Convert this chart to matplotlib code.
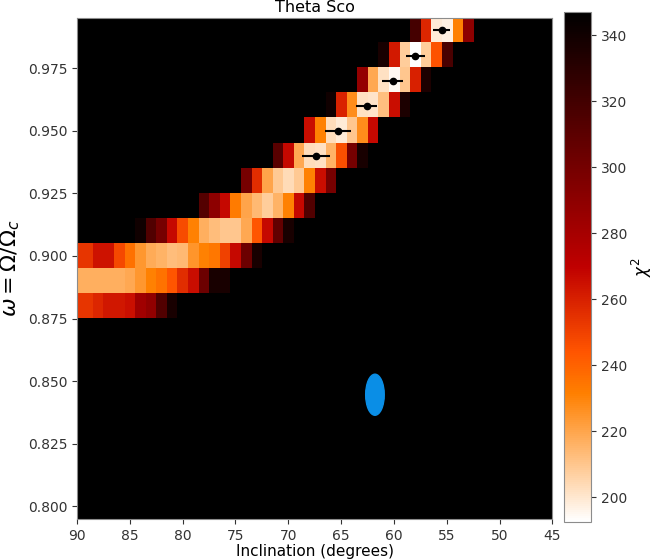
"""
Theta Sco chi-square map: inclination vs. rotation rate.
"""

import numpy as np
import matplotlib
matplotlib.use("Agg")
import matplotlib.pyplot as plt
from matplotlib.patches import Ellipse

# grid axes (cell centres)
inclinations = np.arange(90, 44, -1)          # 90 ... 45 deg
omegas = np.round(np.arange(0.80, 0.995, 0.01), 2)  # 0.80 ... 0.99

# chi2 band: rows of omega, first inclination, values going down in inclination
band_omega = [0.88, 0.89, 0.90, 0.91, 0.92, 0.93, 0.94, 0.95, 0.96, 0.97, 0.98, 0.99]
band_start = [90, 90, 90, 84, 78, 74, 71, 68, 66, 63, 61, 58]
band_chi2 = [
    [254, 254, 258, 263, 263, 265, 282, 288, 314, 337],
    [217, 217, 217, 217, 217, 219, 224, 231, 235, 244, 256, 266, 303, 337, 337],
    [254, 254, 264, 264, 248, 236, 224, 218, 216, 213, 214, 225, 231, 234, 250, 267, 303, 337],
    [340, 314, 299, 267, 247, 231, 217, 213, 210, 210, 219, 244, 267, 307, 337],
    [313, 290, 267, 233, 220, 214, 208, 216, 231, 267, 314],
    [299, 256, 220, 209, 204, 209, 231, 266, 299],
    [311, 267, 219, 203, 202, 216, 246, 299, 337],
    [266, 231, 203, 199, 210, 227, 267],
    [340, 259, 227, 202, 201, 212, 266, 335],
    [287, 219, 202, 195, 210, 260, 335],
    [337, 262, 208, 192.6, 208, 245, 317],
    [319, 258, 199, 197, 231, 290],
]
chi2_ceiling = 400.0  # everything outside the band is off the colour scale (black)

# best-fit inclination per omega with errors
pt_inc = [55.5, 58.0, 60.1, 62.6, 65.3, 67.4]
pt_omega = [0.99, 0.98, 0.97, 0.96, 0.95, 0.94]
pt_err = [0.84, 0.9, 1.0, 1.04, 1.2, 1.34]

# independent measurement (ellipse)
meas_inc, meas_inc_err = 61.8, 0.88
meas_omega, meas_omega_err = 0.8446, 0.0082

VMIN, VMAX = 192.6, 347


def build_grid():
    grid = np.full((len(omegas), len(inclinations)), chi2_ceiling)
    for om, start, vals in zip(band_omega, band_start, band_chi2):
        r = int(np.argmin(np.abs(omegas - om)))
        c = int(np.where(inclinations == start)[0][0])
        grid[r, c:c + len(vals)] = vals
    return grid


def main():
    grid = build_grid()

    fig = plt.figure(figsize=(6.57, 5.6), dpi=100)
    ax = fig.add_axes([0.1172, 0.0732, 0.7237, 0.8948])
    cax = fig.add_axes([0.8577, 0.068, 0.042, 0.9107])

    im = ax.imshow(grid, origin="lower", aspect="auto", interpolation="nearest",
                   cmap="gist_heat_r", vmin=VMIN, vmax=VMAX,
                   extent=[inclinations[0] + 0.5, inclinations[-1] - 0.5,
                           omegas[0] - 0.005, omegas[-1] + 0.005])

    ax.errorbar(pt_inc, pt_omega, xerr=pt_err, fmt="o", color="k", ms=4.5,
                lw=1.5, capsize=0)
    ax.add_patch(Ellipse((meas_inc, meas_omega), width=2 * meas_inc_err,
                         height=2 * meas_omega_err, color="#0a8ee6"))

    ax.set_xlim(90, 45)
    ax.set_ylim(0.795, 0.995)
    ax.set_xticks(np.arange(90, 44, -5))
    ax.set_yticks(np.arange(0.800, 0.976, 0.025))
    ax.yaxis.set_major_formatter(plt.FormatStrFormatter("%.3f"))
    ax.tick_params(labelsize=10, colors="0.2")
    for s in ax.spines.values():
        s.set_color("0.55")

    ax.set_title("Theta Sco", fontsize=11.5, pad=4)
    ax.set_xlabel("Inclination (degrees)", fontsize=11, labelpad=1)
    ax.set_ylabel(r"$\omega = \Omega/\Omega_c$", fontsize=16)

    cb = fig.colorbar(im, cax=cax)
    cb.set_ticks(np.arange(200, 341, 20))
    cb.ax.tick_params(labelsize=10, colors="0.2")
    cb.outline.set_edgecolor("0.55")
    cb.set_label(r"$\chi^2$", fontsize=12, labelpad=2)

    fig.savefig("out.png", dpi=100)
    plt.close(fig)


if __name__ == "__main__":
    main()
